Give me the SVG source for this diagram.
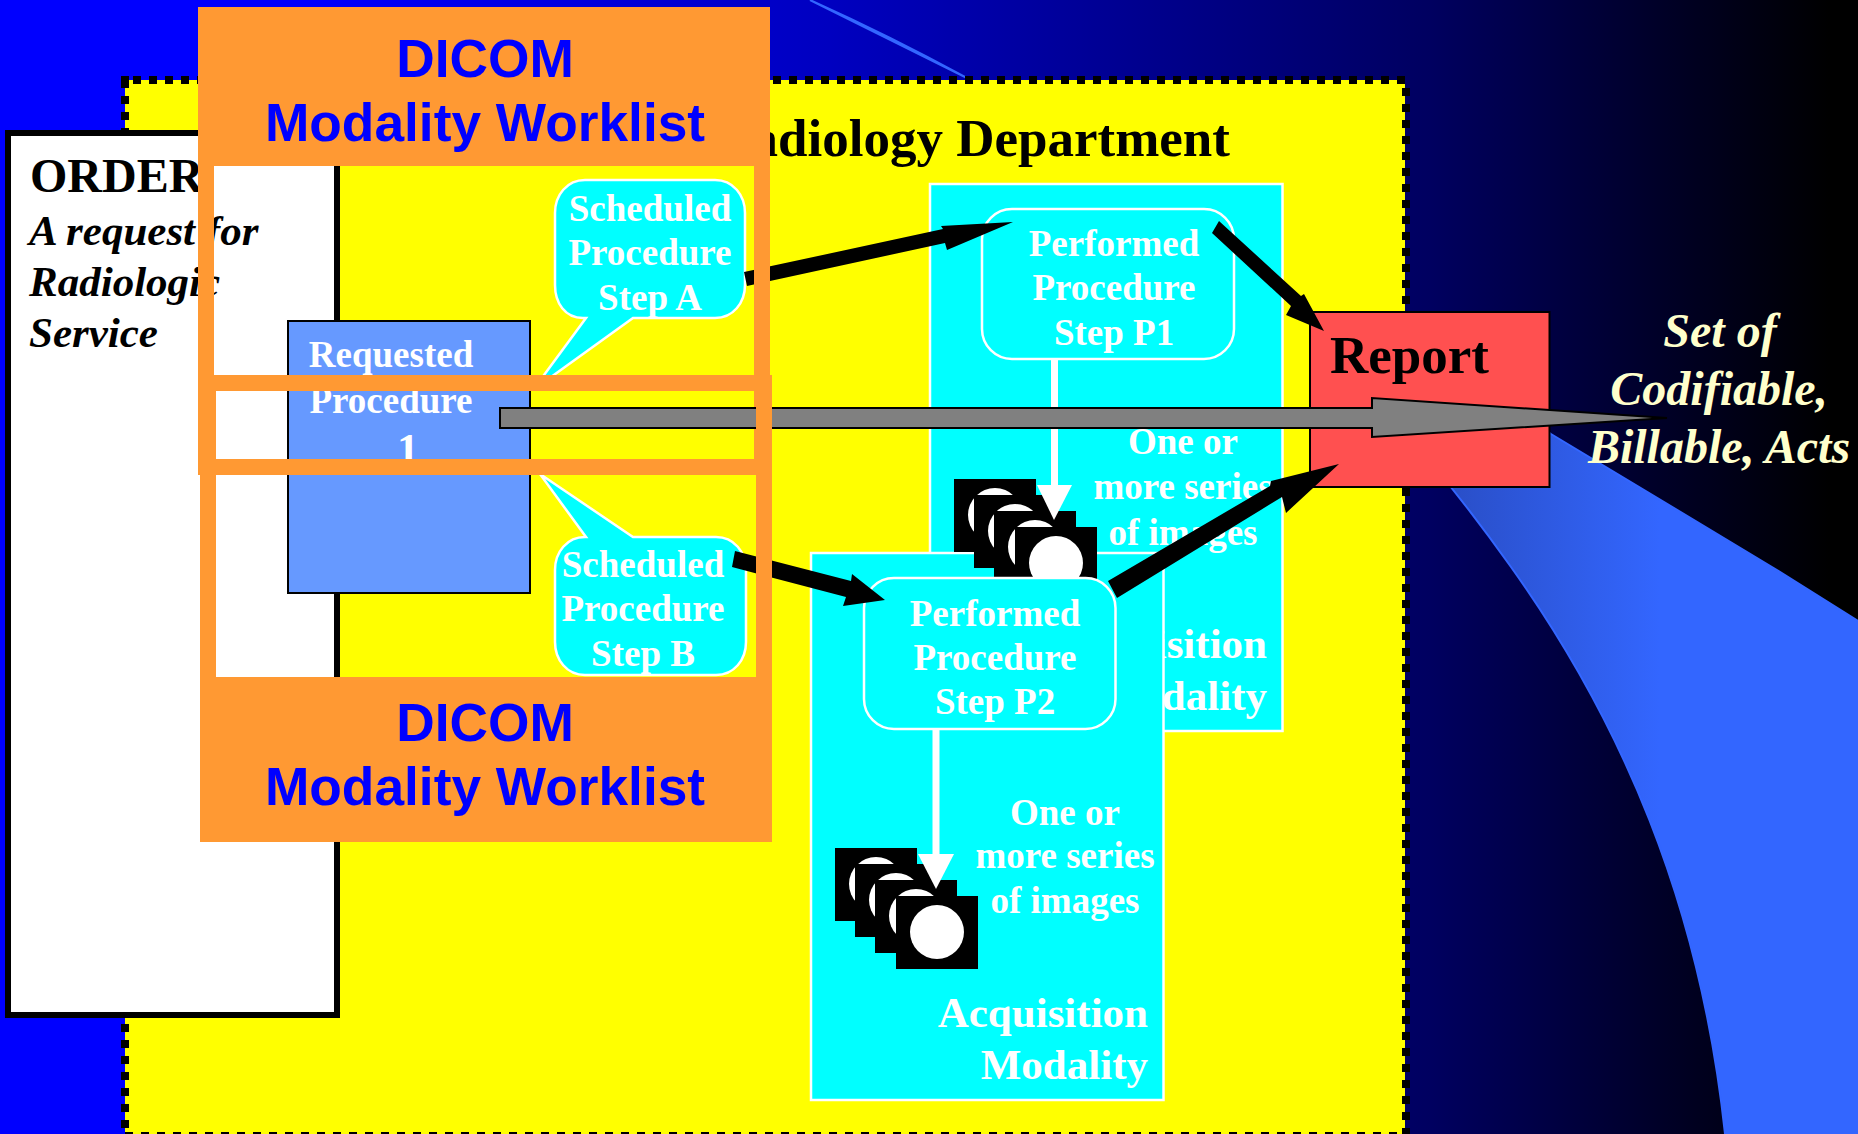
<svg xmlns="http://www.w3.org/2000/svg" width="1858" height="1134" viewBox="0 0 1858 1134">
<defs>
<linearGradient id="bg" gradientUnits="userSpaceOnUse" x1="0" y1="0" x2="1858" y2="0"><stop offset="0.16" stop-color="#0000ff"/><stop offset="0.447" stop-color="#0000c0"/><stop offset="0.77" stop-color="#000060"/><stop offset="0.893" stop-color="#000028"/><stop offset="0.985" stop-color="#000000"/></linearGradient>
<linearGradient id="swoosh" gradientUnits="userSpaceOnUse" x1="1454" y1="0" x2="1660" y2="0"><stop offset="0" stop-color="#2a4fc8"/><stop offset="1" stop-color="#3366ff"/></linearGradient>
<g id="cam"><rect width="82" height="73" fill="#000"/><circle cx="41" cy="36" r="27" fill="#fff"/></g>
</defs>
<style>
text{font-family:"Liberation Serif","Times New Roman",serif;font-weight:bold}
.w{fill:#fff;font-size:37px;text-anchor:middle}
.big{fill:#fff;font-size:43px;text-anchor:end}
.k{fill:#000;font-size:53px}
.i{fill:#000;font-size:43px;font-style:italic}
.s{fill:#ffffcc;font-size:48px;font-style:italic;text-anchor:middle}
.d{fill:#0000ff;font-family:"Liberation Sans",Arial,sans-serif;font-size:53.3px;text-anchor:middle}
.mod{fill:#00ffff;stroke:#fff;stroke-width:2.5}
.frame{fill:#ff9933;fill-rule:evenodd}
.dash{fill:none;stroke:#000;stroke-width:8;stroke-dasharray:8 8}
</style>
<rect id="background" width="1858" height="1134" fill="url(#bg)"/>
<path id="swoosh-shape" d="M810 0Q890 36 965 77C1200 200 1400 320 1551 434L1772 567L1858 621V1134H1725C1700 900 1620 720 1511 567C1350 340 1150 170 965 77Z" fill="url(#swoosh)" stroke="#3366ff" stroke-width="2"/>
<g id="department"><rect x="125" y="80" width="1280" height="1054" fill="#ffff00"/><path class="dash" d="M133 80H1406"/><path class="dash" d="M125 80V1134"/><rect x="121" y="76" width="8" height="8"/><path class="dash" d="M1406 88V1134"/><path class="dash" d="M125 1136H1406"/><text class="k" x="1230" y="156" text-anchor="end">Radiology Department</text></g>
<g id="order"><rect x="8" y="133" width="329" height="882" fill="#fff" stroke="#000" stroke-width="6"/><text x="30" y="192" font-size="48">ORDER</text><text class="i" x="29" y="245">A request for</text><text class="i" x="29" y="296">Radiologic</text><text class="i" x="29" y="347">Service</text></g>
<g id="requested-procedure"><rect x="288" y="321" width="242" height="272" fill="#6699ff" stroke="#000" stroke-width="2"/><text class="w" x="391" y="367">Requested</text><text class="w" x="391" y="413">Procedure</text><text class="w" x="408" y="464" style="font-size:44px">1</text></g>
<g id="step-a"><path class="mod" d="M586 318H583C565 318 555 303 555 285V213C555 195 567 180 585 180H715C733 180 745 195 745 213V285C745 303 733 318 715 318H633L533 390Z"/><text class="w" x="650" y="221">Scheduled</text><text class="w" x="650" y="265">Procedure</text><text class="w" x="650" y="310">Step A</text></g>
<g id="step-b"><path class="mod" d="M586 537H585C567 537 555 552 555 570V642C555 660 567 675 585 675H716C734 675 746 660 746 642V570C746 552 734 537 716 537H633L540 474Z"/><text class="w" x="643" y="577">Scheduled</text><text class="w" x="643" y="621">Procedure</text><text class="w" x="643" y="666">Step B</text></g>
<g id="modality-1"><rect class="mod" x="930" y="184" width="352.5" height="547"/><text class="big" x="1267" y="658">Acquisition</text><text class="big" x="1267" y="710">Modality</text></g>
<g id="procedure-p1"><rect class="mod" x="982" y="209" width="252" height="150" rx="30" ry="30"/><text class="w" x="1114" y="256">Performed</text><text class="w" x="1114" y="300">Procedure</text><text class="w" x="1114" y="345">Step P1</text></g>
<g id="modality-2"><rect class="mod" x="811" y="553" width="352.5" height="547"/><text class="big" x="1148" y="1027">Acquisition</text><text class="big" x="1148" y="1079">Modality</text><use href="#cam" x="835" y="848"/><use href="#cam" x="855" y="864"/><use href="#cam" x="875" y="880"/><use href="#cam" x="896" y="896"/><rect x="932.500" y="729" width="7" height="130" fill="#fff"/><path d="M918 854H954L936 889Z" fill="#fff"/><text class="w" x="1065" y="825">One or</text><text class="w" x="1065" y="868">more series</text><text class="w" x="1065" y="913">of images</text></g>
<g id="images-1"><use href="#cam" x="954" y="479"/><use href="#cam" x="974" y="495"/><use href="#cam" x="994" y="511"/><use href="#cam" x="1015" y="527"/><rect x="1051" y="359" width="7" height="130" fill="#fff"/><path d="M1037 485H1072L1054 520Z" fill="#fff"/><text class="w" x="1183" y="454">One or</text><text class="w" x="1183" y="499">more series</text><text class="w" x="1183" y="545">of images</text></g>
<g id="procedure-p2"><rect class="mod" x="864" y="578" width="251.500" height="151" rx="30" ry="30"/><text class="w" x="995" y="626">Performed</text><text class="w" x="995" y="670">Procedure</text><text class="w" x="995" y="714">Step P2</text></g>
<g id="report"><rect x="1310" y="312" width="239.500" height="175" fill="#ff5050" stroke="#000" stroke-width="2"/><text class="k" x="1330" y="373">Report</text></g>
<g id="set-label"><text class="s" x="1720" y="347">Set of</text><text class="s" x="1719" y="405">Codifiable,</text><text class="s" x="1719" y="463">Billable, Acts</text></g>
<g id="connectors">
<path d="M744 272L943 229L941 226L1013 222L947 250L945 243L747 286Z" fill="#000"/>
<path d="M1219 221L1301 296L1304 294L1324 331L1286 315L1291 306L1212 233Z" fill="#000"/>
<path d="M1108 581L1270 486L1271 481L1339 464L1286 513L1282 497L1117 598Z" fill="#000"/>
<path d="M735 551L851 581L852 574L885 600L843 606L846 597L732 567Z" fill="#000"/>
</g>
<path id="worklist-top" class="frame" d="M198 7H770V475H198ZM214 166V459H754V166Z"/>
<text class="d" x="485" y="77">DICOM</text><text class="d" x="485" y="141">Modality Worklist</text>
<path id="patient-arrow" d="M500 408H1372V398L1667 418L1372 437V428H500Z" fill="#808080" stroke="#000" stroke-width="2"/>
<path id="worklist-bottom" class="frame" d="M200 375H772V842H200ZM216 391V677H756V391Z"/>
<text class="d" x="485" y="741">DICOM</text><text class="d" x="485" y="805">Modality Worklist</text>
</svg>
